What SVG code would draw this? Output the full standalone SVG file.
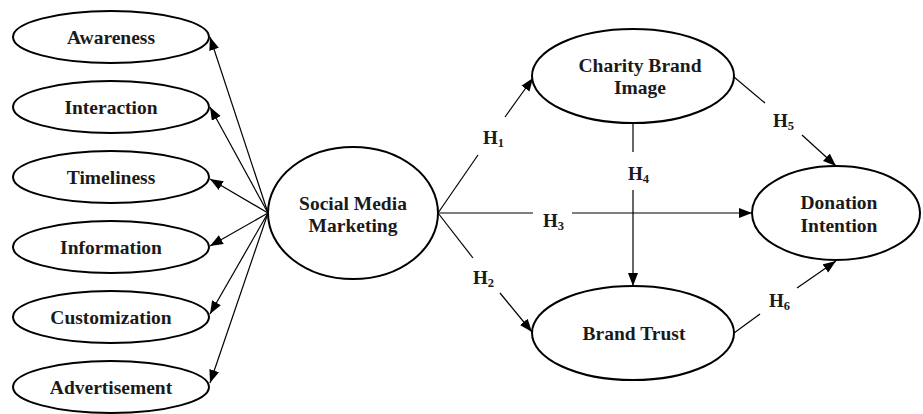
<svg xmlns="http://www.w3.org/2000/svg" width="923" height="414" viewBox="0 0 923 414">
<defs>
<marker id="ah" markerUnits="userSpaceOnUse" markerWidth="14" markerHeight="12" refX="13" refY="5" orient="auto">
<path d="M0,0 L13,5 L0,10 Z" fill="#000"/>
</marker>
<style>
.n{fill:#fff;stroke:#000;stroke-width:2}
.t{font-family:"Liberation Serif","Times New Roman",serif;font-weight:bold;font-size:19.5px;fill:#1a1a1a;text-anchor:middle}
.h{font-family:"Liberation Serif","Times New Roman",serif;font-weight:bold;font-size:19px;fill:#1a1a1a}
.s{font-size:12.5px}
.c{stroke:#000;stroke-width:1.2;fill:none}
.a{marker-end:url(#ah)}
</style>
</defs>
<rect width="923" height="414" fill="#fff"/>
<g id="connectors">
<line class="c a" x1="268" y1="213" x2="210" y2="37"/>
<line class="c a" x1="268" y1="213" x2="210" y2="107"/>
<line class="c a" x1="268" y1="213" x2="210" y2="179"/>
<line class="c a" x1="268" y1="213" x2="210" y2="246"/>
<line class="c a" x1="268" y1="213" x2="210" y2="314"/>
<line class="c a" x1="268" y1="213" x2="210" y2="383"/>
<line class="c" x1="438" y1="213" x2="478" y2="155"/>
<line class="c a" x1="505" y1="117" x2="533" y2="78"/>
<line class="c" x1="438" y1="213" x2="533" y2="213"/>
<line class="c a" x1="572" y1="213" x2="752" y2="213"/>
<line class="c" x1="438" y1="213" x2="473" y2="258"/>
<line class="c a" x1="500" y1="293" x2="532" y2="332"/>
<line class="c" x1="633" y1="123" x2="633" y2="152"/>
<line class="c a" x1="633" y1="190" x2="633" y2="286"/>
<line class="c" x1="734" y1="77" x2="765" y2="103"/>
<line class="c a" x1="802" y1="135" x2="836" y2="166"/>
<line class="c" x1="734" y1="333" x2="760" y2="314"/>
<line class="c a" x1="797" y1="288" x2="836" y2="261"/>
<text class="h" x="483" y="144">H<tspan class="s" dy="3">1</tspan></text>
<text class="h" x="473" y="284">H<tspan class="s" dy="3">2</tspan></text>
<text class="h" x="543" y="227">H<tspan class="s" dy="3">3</tspan></text>
<text class="h" x="628" y="180">H<tspan class="s" dy="3">4</tspan></text>
<text class="h" x="773" y="127">H<tspan class="s" dy="3">5</tspan></text>
<text class="h" x="769" y="307">H<tspan class="s" dy="3">6</tspan></text>
</g>
<g id="awareness"><ellipse class="n" cx="111" cy="37" rx="98" ry="26"/><text class="t" x="111" y="44">Awareness</text></g>
<g id="interaction"><ellipse class="n" cx="111" cy="107" rx="98" ry="26"/><text class="t" x="111" y="114">Interaction</text></g>
<g id="timeliness"><ellipse class="n" cx="111" cy="177" rx="98" ry="26"/><text class="t" x="111" y="184">Timeliness</text></g>
<g id="information"><ellipse class="n" cx="111" cy="247" rx="98" ry="26"/><text class="t" x="111" y="254">Information</text></g>
<g id="customization"><ellipse class="n" cx="111" cy="317" rx="98" ry="26"/><text class="t" x="111" y="324">Customization</text></g>
<g id="advertisement"><ellipse class="n" cx="111" cy="387" rx="98" ry="26"/><text class="t" x="111" y="394">Advertisement</text></g>
<g id="smm"><ellipse class="n" cx="353" cy="213" rx="85" ry="66"/><text class="t" x="353" y="210">Social Media</text><text class="t" x="353" y="232">Marketing</text></g>
<g id="cbi"><ellipse class="n" cx="633" cy="76" rx="101" ry="47"/><text class="t" x="640" y="72">Charity Brand</text><text class="t" x="640" y="94">Image</text></g>
<g id="bt"><ellipse class="n" cx="633" cy="333" rx="101" ry="47"/><text class="t" x="634" y="340">Brand Trust</text></g>
<g id="di"><ellipse class="n" cx="836" cy="213" rx="84" ry="47"/><text class="t" x="839" y="209">Donation</text><text class="t" x="839" y="232">Intention</text></g>
</svg>
